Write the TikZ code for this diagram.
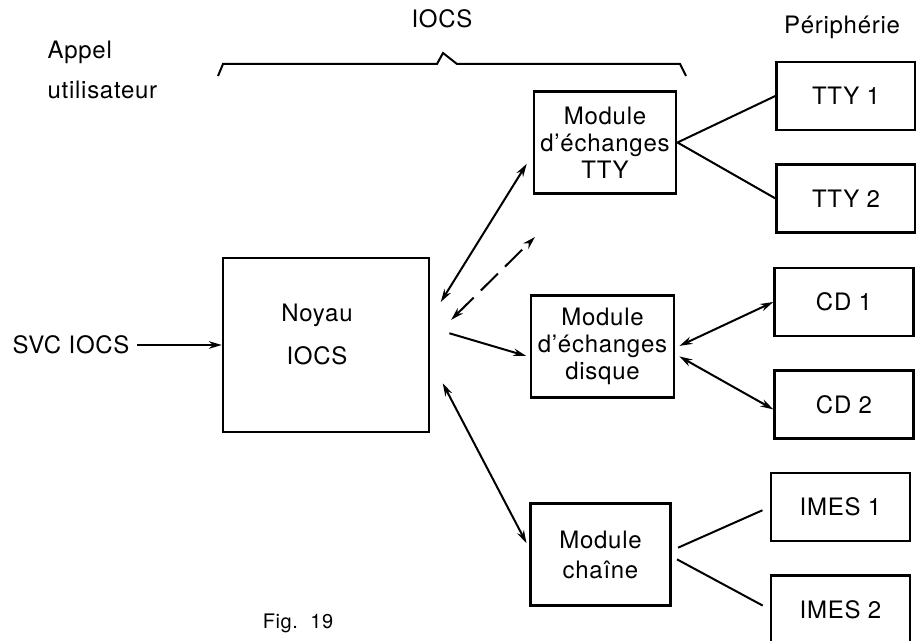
\documentclass[tikz,border=0pt]{standalone}
\usepackage{fontspec}
\setmainfont[LetterSpace=3]{TeX Gyre Heros}
\usetikzlibrary{positioning,calc,arrows.meta}

\begin{document}
\begin{tikzpicture}[x=0.5pt,y=-0.5pt,
font=\fontsize{12}{13.5}\selectfont,
>={Stealth[length=6.5pt,width=3.8pt]},
line width=1pt,
bigbox/.style={
    draw, line width=1.2pt, align=center},
modbox/.style={
    bigbox, minimum width=70pt, minimum height=51pt},
periphbox/.style={
    bigbox, minimum width=69.5pt, minimum height=34pt},
dashedlink/.style={
    dash pattern=on 12pt off 5pt}
]

\useasboundingbox (0,0) rectangle (916,641);

\node (titreIOCS) at (442,19) {IOCS};
\node (titrePeriph) at (842,27) {Périphérie};
\node[align=left, anchor=west] (appel) at (40,70) {Appel\\[6.5pt]utilisateur};
\node (svc) at (71,345) {SVC IOCS};
\node[font=\fontsize{10}{12}\selectfont] (fig) at (298,623) {Fig.\ \ 19};

\node[bigbox, minimum width=103pt, minimum height=87pt]
                                    at (326,345) (noyau) {};
\node[align=center] at (317,334) (noyauTexte) {Noyau\\[8pt]IOCS};
\node[modbox] at (605,142.5) (modTTY) {Module\\d’échanges\\TTY};
\node[modbox] at (602.5,346.5) (modDisque) {Module\\d’échanges\\disque};
\node[modbox] at (600.5,554.5) (modChaine) {Module\\[1.5pt]chaîne};

\node[periphbox] at (846,96) (tty1) {TTY 1};
\node[periphbox, below=16pt of tty1] (tty2) {TTY 2};
\node[periphbox] at (844,302) (cd1) {CD 1};
\node[periphbox, below=16pt of cd1] (cd2) {CD 2};
\node[periphbox] at (840.5,507) (imes1) {IMES 1};
\node[periphbox, below=16pt of imes1] (imes2) {IMES 2};

\coordinate (autres) at (535,237);

% accolade
\draw (218,76) -- (223,64) -- (437,64) -- (443,53) -- (457,64)
      -- (680,64) -- (686,76);

\draw[->] (svc) -- (noyau);
\draw[<->, shorten <=10pt, shorten >=5.5pt]
        ([yshift=13pt]noyau.east) -- ([yshift=-6pt]modTTY.west);
\draw[<->, dashedlink, shorten <=14.7pt]
        ([yshift=2.25pt]noyau.east) -- (autres);
\draw[->, shorten <=10pt, shorten >=2pt]
        ([yshift=8.7pt]noyau.east) -- ([yshift=-5.3pt]modDisque.west);
\draw[<->, shorten <=13.5pt, shorten >=3pt]
        ([yshift=-7.2pt]noyau.east) -- ([yshift=3pt]modChaine.west);

\foreach \from/\to in {modTTY/tty1, modTTY/tty2}
    \draw (\from.east) -- (\to.west);

\draw[<->, shorten <=2.5pt] ([yshift=-0.75pt]modDisque.east) -- (cd1.west);
\draw[<->, shorten <=2.5pt]
        ([yshift=-3.75pt]modDisque.east) -- ([yshift=-2.5pt]cd2.west);

\draw[shorten <=3.5pt, shorten >=4pt]
        ([yshift=2pt]modChaine.east) -- (imes1.west);
\draw[shorten <=3pt, shorten >=4pt]
        ([yshift=-1pt]modChaine.east) -- (imes2.west);

\end{tikzpicture}
\end{document}
